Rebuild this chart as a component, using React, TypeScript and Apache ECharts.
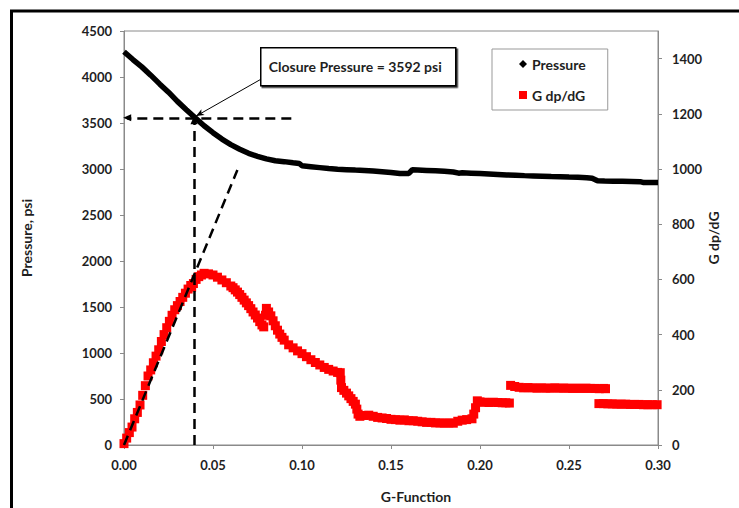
import React, { useEffect, useRef } from 'react';
import * as echarts from 'echarts';

// G-function values for the pressure record
const pressureG = [
  0, 0.005, 0.01, 0.015, 0.02, 0.025, 0.03, 0.035, 0.04, 0.045, 0.05, 0.055, 0.06, 0.065, 0.07, 0.075,
  0.08, 0.085, 0.09, 0.095, 0.0985, 0.1, 0.105, 0.11, 0.115, 0.12, 0.125, 0.13, 0.135, 0.14, 0.145,
  0.15, 0.155, 0.16, 0.162, 0.165, 0.17, 0.175, 0.18, 0.185, 0.188, 0.19, 0.195, 0.2, 0.205, 0.21,
  0.215, 0.22, 0.225, 0.23, 0.235, 0.24, 0.245, 0.25, 0.255, 0.26, 0.263, 0.266, 0.27, 0.275, 0.28,
  0.285, 0.29, 0.292, 0.295, 0.3,
];
// Pressure, psi
const pressureValues = [
  4275, 4190, 4110, 4020, 3925, 3835, 3735, 3645, 3556, 3470, 3395, 3325, 3265, 3215, 3170, 3138,
  3110, 3090, 3080, 3068, 3060, 3035, 3025, 3015, 3005, 2998, 2993, 2988, 2984, 2978, 2970,
  2962, 2950, 2952, 2992, 2990, 2985, 2980, 2975, 2968, 2955, 2958, 2955, 2950, 2945, 2940,
  2935, 2932, 2928, 2925, 2922, 2918, 2915, 2912, 2910, 2906, 2900, 2872, 2870, 2868, 2866,
  2864, 2862, 2852, 2852, 2852,
];

// G-function values for the G dp/dG record
const derivG = [
  0, 0.0015, 0.003, 0.0045, 0.006, 0.0075, 0.009, 0.0105, 0.012, 0.0135, 0.015, 0.0165, 0.018,
  0.0195, 0.021, 0.0225, 0.024, 0.0255, 0.027, 0.0285, 0.03, 0.0315, 0.033, 0.0345, 0.036, 0.0375,
  0.038, 0.039, 0.0405, 0.042, 0.0435, 0.045, 0.0475, 0.05, 0.0525, 0.055, 0.0575, 0.06, 0.06125,
  0.0625, 0.06375, 0.065, 0.06625, 0.0675, 0.06875, 0.07, 0.07125, 0.0725, 0.07375, 0.075, 0.07625,
  0.0775, 0.0785, 0.0795, 0.08, 0.08125, 0.0825, 0.08375, 0.085, 0.08625, 0.0875, 0.08875, 0.09,
  0.0925, 0.095, 0.0975, 0.1, 0.1025, 0.105, 0.1075, 0.11, 0.1125, 0.115, 0.1175, 0.12, 0.1215,
  0.1218, 0.1222, 0.1235, 0.125, 0.12625, 0.1275, 0.12875, 0.13, 0.1308, 0.1315, 0.1325, 0.135,
  0.1375, 0.14, 0.1425, 0.145, 0.1475, 0.15, 0.1525, 0.155, 0.1575, 0.16, 0.1625, 0.165, 0.1675,
  0.17, 0.1725, 0.175, 0.1775, 0.18, 0.1825, 0.185, 0.1875, 0.19, 0.1925, 0.1955, 0.1965, 0.1975,
  0.1985, 0.2, 0.2025, 0.205, 0.2075, 0.21, 0.2125, 0.2145, 0.2165, 0.2172, 0.2195, 0.222, 0.2245,
  0.227, 0.2295, 0.232, 0.2345, 0.237, 0.2395, 0.242, 0.2445, 0.247, 0.2495, 0.252, 0.2545, 0.257,
  0.2595, 0.262, 0.2645, 0.267, 0.2695, 0.2705, 0.2668, 0.2693, 0.2718, 0.2743, 0.2768, 0.2793,
  0.2818, 0.2843, 0.2868, 0.2893, 0.2918, 0.2943, 0.2968, 0.2995,
];
// G dp/dG
const derivValues = [
  5, 25, 45, 65, 95, 118, 145, 180, 215, 250, 272, 298, 322,
  345, 375, 400, 425, 448, 470, 490, 505, 520, 535, 550, 565, 578,
  572, 585, 600, 610, 616, 622, 620, 616, 608, 598, 588, 576, 570,
  562, 554, 545, 535, 525, 515, 505, 494, 482, 471, 460, 447,
  435, 428, 470, 495, 482, 468, 450, 432, 416, 402, 390, 380,
  363, 352, 341, 331, 320, 309, 299, 290, 281, 274, 268, 263, 262,
  235, 208, 198, 188, 178, 168, 158, 148, 130, 112, 104, 107,
  108, 104, 100, 98, 96, 93, 92, 90, 91, 88, 88, 86, 84,
  82, 82, 80, 80, 79, 80, 79, 86, 90, 92, 95, 112, 135,
  160, 156, 155, 154, 155, 154, 153, 153, 152, 216, 212, 209, 207,
  208, 207, 206, 207, 206, 206, 207, 206, 206, 206, 205, 206, 205,
  206, 205, 205, 204, 205, 204, 150, 150, 149, 149, 148, 148,
  148, 147, 147, 147, 146, 146, 146, 146,
];

const leftTicks = [0, 500, 1000, 1500, 2000, 2500, 3000, 3500, 4000, 4500];
const rightTicks = [0, 200, 400, 600, 800, 1000, 1200, 1400];
const xTicks = [0, 0.05, 0.1, 0.15, 0.2, 0.25, 0.3];

const closureG = 0.0393;
const closurePressure = 3556;
const tangentEnd = [0.0637, 2989];

const FONT = 'Lato, "Open Sans", sans-serif';
const AXIS_GRAY = '#8a8a8a';
const TEXT = '#1f1f1f';

export default function App() {
  const ref = useRef<HTMLDivElement>(null);

  useEffect(() => {
    if (!ref.current) return;
    const chart = echarts.init(ref.current, null, { renderer: 'svg' });

    const tickStyle = { color: TEXT, fontFamily: FONT, fontWeight: 'bold' as const, fontSize: 13 };
    const titleStyle = { color: TEXT, fontFamily: FONT, fontWeight: 'bold' as const, fontSize: 14 };
    const dashed = { color: '#000', type: [10, 6] as number[], width: 2.5 };

    chart.setOption({
      animation: false,
      backgroundColor: '#fff',
      textStyle: { fontFamily: FONT },
      grid: {
        left: 124,
        top: 31,
        right: 81,
        bottom: 61,
        show: true,
        borderColor: AXIS_GRAY,
        borderWidth: 1,
      },
      legend: {
        orient: 'vertical',
        left: 492,
        top: 49,
        padding: [8, 22, 8, 27],
        itemGap: 17,
        itemWidth: 8,
        itemHeight: 8,
        borderColor: '#999',
        borderWidth: 1,
        backgroundColor: '#fff',
        textStyle: titleStyle,
        data: [
          { name: 'Pressure', icon: 'diamond' },
          { name: 'G dp/dG', icon: 'rect' },
        ],
      },
      xAxis: {
        type: 'value',
        min: 0,
        max: 0.3,
        interval: 0.05,
        name: 'G-Function',
        nameLocation: 'middle',
        nameGap: 44,
        nameMoveOverlap: false,
        nameTextStyle: { ...titleStyle, padding: [0, 0, 0, 50] },
        axisLine: { show: true, lineStyle: { color: AXIS_GRAY, width: 1 } },
        axisTick: { show: true, length: 4, lineStyle: { color: AXIS_GRAY }, customValues: xTicks },
        axisLabel: {
          ...tickStyle,
          margin: 13,
          customValues: xTicks,
          formatter: (v: number) => v.toFixed(2),
        },
        splitLine: { show: false },
      },
      yAxis: [
        {
          type: 'value',
          min: 0,
          max: 4500,
          interval: 500,
          name: 'Pressure, psi',
          nameLocation: 'middle',
          nameRotate: 90,
          nameGap: 91,
          nameMoveOverlap: false,
          nameTextStyle: titleStyle,
          axisLine: { show: true, lineStyle: { color: AXIS_GRAY, width: 1 } },
          axisTick: { show: true, length: 4, lineStyle: { color: AXIS_GRAY }, customValues: leftTicks },
          axisLabel: { ...tickStyle, margin: 12, customValues: leftTicks, formatter: (v: number) => String(v) },
          splitLine: { show: false },
        },
        {
          type: 'value',
          position: 'right',
          min: 0,
          max: 1500,
          name: 'G dp/dG',
          nameLocation: 'middle',
          nameRotate: 90,
          nameGap: 48,
          nameMoveOverlap: false,
          nameTextStyle: titleStyle,
          axisLine: { show: true, lineStyle: { color: AXIS_GRAY, width: 1 } },
          axisTick: { show: true, length: 4, lineStyle: { color: AXIS_GRAY }, customValues: rightTicks },
          axisLabel: { ...tickStyle, margin: 14, customValues: rightTicks, formatter: (v: number) => String(v) },
          splitLine: { show: false },
        },
      ],
      series: [
        {
          name: 'G dp/dG',
          type: 'scatter',
          yAxisIndex: 1,
          symbol: 'rect',
          symbolSize: 9,
          itemStyle: { color: '#ff0000', opacity: 1 },
          z: 2,
          silent: true,
          data: derivG.map((g, i) => [g, derivValues[i]]),
        },
        {
          name: 'Pressure',
          type: 'line',
          yAxisIndex: 0,
          showSymbol: false,
          symbol: 'diamond',
          color: '#000',
          lineStyle: { color: '#000', width: 5.5 },
          z: 3,
          silent: true,
          data: pressureG.map((g, i) => [g, pressureValues[i]]),
          markLine: {
            silent: true,
            animation: false,
            label: { show: false },
            symbolSize: 9,
            data: [
              [
                { coord: [0.094, closurePressure], symbol: 'none', lineStyle: dashed },
                { coord: [0.0018, closurePressure], symbol: 'triangle', symbolSize: [7, 8], symbolRotate: 90 },
              ],
              [
                { coord: [closureG, 0], symbol: 'none', lineStyle: dashed },
                { coord: [closureG, 3530], symbol: 'triangle', symbolSize: [7, 8] },
              ],
              [
                { coord: [0, 0], symbol: 'none', lineStyle: dashed },
                { coord: tangentEnd, symbol: 'none' },
              ],
              [
                { coord: [0.0764, 3970], symbol: 'none', lineStyle: { color: '#000', type: 'solid', width: 1 } },
                { coord: [0.0405, 3575], symbol: 'arrow', symbolSize: [5, 8] },
              ],
            ],
          },
        },
      ],
      graphic: [
        {
          type: 'rect',
          silent: true,
          z: 100,
          shape: { x: 11.5, y: 11, width: 760, height: 520 },
          style: { fill: 'none', stroke: '#000', lineWidth: 3 },
        },
        {
          type: 'group',
          left: 260,
          top: 47,
          z: 100,
          children: [
            {
              type: 'rect',
              shape: { x: 0, y: 0, width: 195, height: 38 },
              style: {
                fill: '#fff',
                stroke: '#000',
                lineWidth: 1.5,
                shadowColor: 'rgba(0,0,0,0.8)',
                shadowOffsetX: 1.5,
                shadowOffsetY: 1.5,
                shadowBlur: 0,
              },
            },
            {
              type: 'text',
              x: 8,
              y: 19,
              style: {
                text: 'Closure Pressure = 3592 psi',
                fill: TEXT,
                font: `bold 14px ${FONT}`,
                verticalAlign: 'middle',
              },
            },
          ],
        },
      ],
    });

    return () => chart.dispose();
  }, []);

  return (
    <div
      ref={ref}
      style={{ position: 'fixed', left: 0, top: 0, width: 739, height: 508, background: '#fff' }}
    />
  );
}
